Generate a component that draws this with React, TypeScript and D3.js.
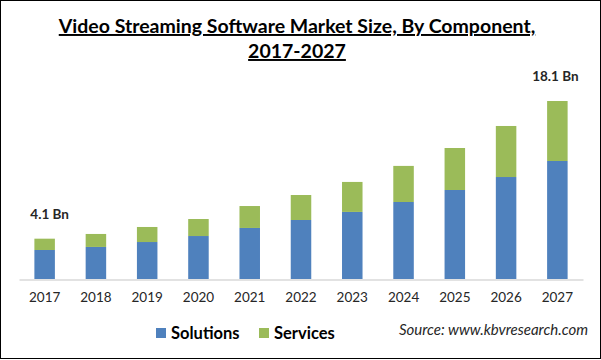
import { useEffect, useRef } from "react";
import * as d3 from "d3";

const YEARS = ["2017", "2018", "2019", "2020", "2021", "2022", "2023", "2024", "2025", "2026", "2027"];
const SOLUTIONS = [2.95, 3.26, 3.76, 4.37, 5.19, 6.0, 6.82, 7.83, 9.05, 10.37, 12.0];
const SERVICES = [1.15, 1.32, 1.53, 1.73, 2.23, 2.54, 3.05, 3.67, 4.27, 5.19, 6.1];
const SERIES = ["Solutions", "Services"];
const LABELS = [{ year: "2017", text: "4.1 Bn", dx: 5 }, { year: "2027", text: "18.1 Bn", dx: -2 }];

const C = { blue: "#4f81bd", green: "#9bbb59", axis: "#d9d9d9", text: "#262626" };
const W = 601, H = 360;
const FONT = "Lato, 'Open Sans', sans-serif";

export default function App() {
  const svgRef = useRef<SVGSVGElement>(null);

  useEffect(() => {
    const svg = d3.select(svgRef.current);
    svg.selectAll("*").remove();

    svg.append("rect").attr("x", 0.5).attr("y", 0.5).attr("width", W - 1).attr("height", H - 2)
      .attr("fill", "#fff").attr("stroke", "#000").attr("stroke-width", 1);

    // title
    const title = svg.append("text").attr("text-anchor", "middle").attr("font-family", FONT)
      .attr("font-weight", 700).attr("font-size", 19.5).attr("fill", "#000")
      .attr("text-decoration", "underline");
    title.append("tspan").attr("x", 297).attr("y", 33).text("Video Streaming Software Market Size, By Component,");
    title.append("tspan").attr("x", 297).attr("y", 58).text("2017-2027");

    const x = d3.scaleBand().domain(YEARS).range([19, 583]).paddingInner(0.6).paddingOuter(0.3);
    const y = d3.scaleLinear().domain([0, 18.1]).range([279, 101]);

    const rows = YEARS.map((yr, i) => ({ year: yr, Solutions: SOLUTIONS[i], Services: SERVICES[i] }));
    const stacked = d3.stack<any>().keys(SERIES)(rows);
    const colors = [C.blue, C.green];

    stacked.forEach((layer, k) => {
      svg.append("g").selectAll("rect").data(layer).join("rect")
        .attr("x", d => x(d.data.year)!)
        .attr("width", x.bandwidth())
        .attr("y", d => y(d[1]))
        .attr("height", d => y(d[0]) - y(d[1]))
        .attr("fill", colors[k]);
    });

    // axis
    const ax = svg.append("g").attr("transform", "translate(0,279.5)")
      .call(d3.axisBottom(x).tickSize(0).tickPadding(13));
    ax.select(".domain").attr("stroke", C.axis).attr("stroke-width", 1.5);
    ax.selectAll("text").attr("font-family", FONT).attr("font-size", 13.5).attr("fill", C.text);

    // value labels
    const totals = YEARS.map((_, i) => SOLUTIONS[i] + SERVICES[i]);
    LABELS.forEach(l => {
      const i = YEARS.indexOf(l.year);
      svg.append("text")
        .attr("x", x(l.year)! + x.bandwidth() / 2 + l.dx)
        .attr("y", y(totals[i]) - 20)
        .attr("text-anchor", "middle").attr("font-family", FONT).attr("font-weight", 700)
        .attr("font-size", 13.5).attr("fill", C.text).text(l.text);
    });

    // legend
    const lg = svg.append("g").attr("font-family", FONT).attr("font-weight", 700).attr("font-size", 16.5);
    const lx = [156, 259];
    SERIES.forEach((s, k) => {
      lg.append("rect").attr("x", lx[k]).attr("y", 328).attr("width", 10).attr("height", 10).attr("fill", colors[k]);
      lg.append("text").attr("x", lx[k] + 15).attr("y", 339).attr("fill", "#000").text(s);
    });

    svg.append("text").attr("x", 588).attr("y", 335).attr("text-anchor", "end")
      .attr("font-family", FONT).attr("font-style", "italic").attr("font-size", 15)
      .attr("fill", C.text).text("Source: www.kbvresearch.com");
  }, []);

  return (
    <div style={{ position: "fixed", left: 0, top: 0, width: W, height: H, background: "#fff" }}>
      <svg ref={svgRef} width={W} height={H} style={{ display: "block" }} />
    </div>
  );
}
